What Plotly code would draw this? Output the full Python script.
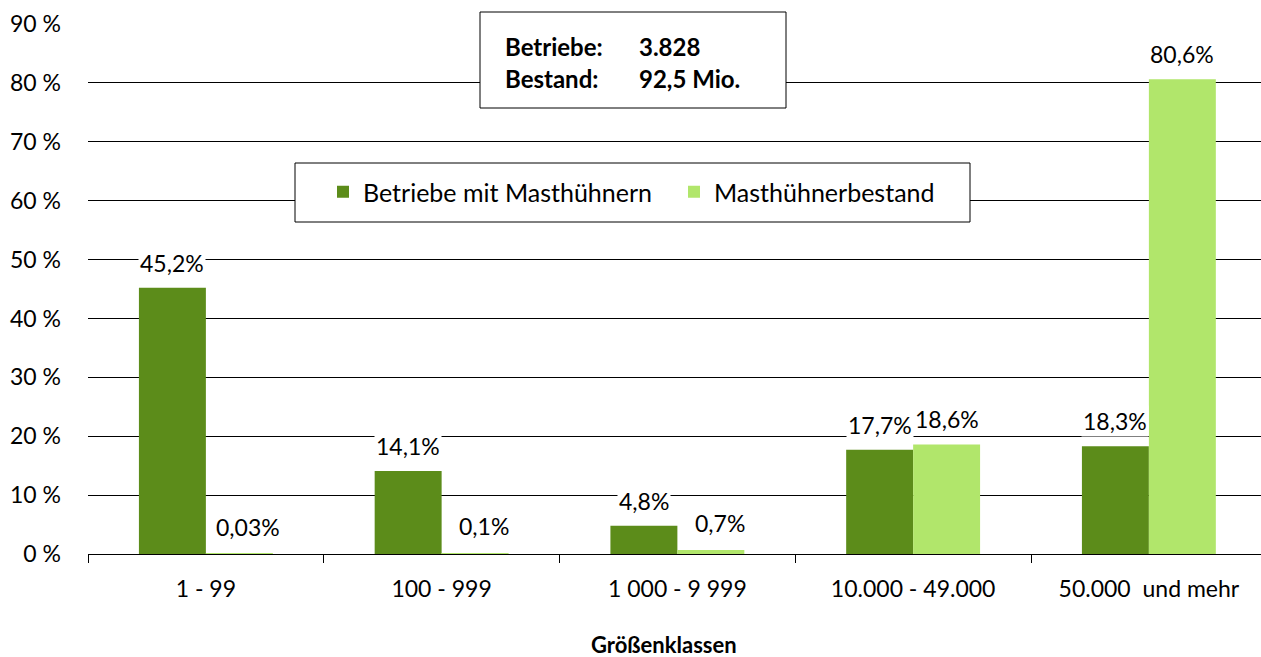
import plotly.graph_objects as go

categories = ["1 - 99", "100 - 999", "1 000 - 9 999", "10.000 - 49.000", "50.000\u00a0 und mehr"]
betriebe = [45.2, 14.1, 4.8, 17.7, 18.3]
bestand = [0.03, 0.1, 0.7, 18.6, 80.6]
betriebe_labels = ["45,2%", "14,1%", "4,8%", "17,7%", "18,3%"]
bestand_labels = ["0,03%", "0,1%", "0,7%", "18,6%", "80,6%"]
y_ticks = [0, 10, 20, 30, 40, 50, 60, 70, 80, 90]
y_ticktext = [f"{v} %" for v in y_ticks]

DARK = "#5C8C1A"
LIGHT = "#B1E66B"
FONT = "Lato"
FS = 23

W, H = 1261, 657
ML, MR, MT, MB = 88, 0, 24, 103
PW = W - ML - MR
PH = H - MT - MB
cat_px = 235.75
span = PW / cat_px

def px(x):
    return (x - ML) / PW

def py(y):
    return (H - MB - y) / PH

fig = go.Figure()
fig.add_trace(go.Bar(x=categories, y=betriebe, name="Betriebe mit Masthühnern",
                     marker=dict(color=DARK, line=dict(width=0))))
fig.add_trace(go.Bar(x=categories, y=bestand, name="Masthühnerbestand",
                     marker=dict(color=LIGHT, line=dict(width=0))))

annotations = []
bar_half = cat_px * (1 - 0.432) / 4
for cat, v, t in zip(categories, betriebe, betriebe_labels):
    annotations.append(dict(x=cat, y=v, text=t, showarrow=False, xref="x", yref="y",
                            xshift=-bar_half, yshift=25, yanchor="middle",
                            bgcolor="white", borderpad=1,
                            font=dict(family=FONT, size=FS, color="black")))
for cat, v, t in zip(categories, bestand, bestand_labels):
    small = v < 1
    annotations.append(dict(x=cat, y=v, text=t, showarrow=False, xref="x", yref="y",
                            xshift=bar_half + (9 if small else 0), yshift=27 if small else 25,
                            yanchor="middle", bgcolor="white", borderpad=1,
                            font=dict(family=FONT, size=FS, color="black")))

# info box texts
for lbl, val, yy in [("Betriebe:", "3.828", 46), ("Bestand:", "92,5 Mio.", 79)]:
    annotations.append(dict(x=px(503), y=py(yy), xref="paper", yref="paper", text="<b>" + lbl + "</b>",
                            showarrow=False, xanchor="left", yanchor="middle",
                            font=dict(family=FONT, size=24, color="black")))
    annotations.append(dict(x=px(637), y=py(yy), xref="paper", yref="paper", text="<b>" + val + "</b>",
                            showarrow=False, xanchor="left", yanchor="middle",
                            font=dict(family=FONT, size=24, color="black")))

annotations.append(dict(x=px(664), y=py(644), xref="paper", yref="paper", text="<b>Größenklassen</b>",
                        showarrow=False, xanchor="center", yanchor="middle",
                        font=dict(family=FONT, size=22, color="black")))

shapes = [
    dict(type="rect", xref="paper", yref="paper", x0=px(480), x1=px(786), y0=py(108), y1=py(12),
         line=dict(color="black", width=1), fillcolor="white", layer="above"),
    dict(type="rect", xref="paper", yref="paper", x0=px(295), x1=px(970), y0=py(222), y1=py(163),
         line=dict(color="black", width=1), fillcolor="white", layer="above"),
]

fig.update_layout(
    width=W, height=H,
    margin=dict(l=ML, r=MR, t=MT, b=MB),
    paper_bgcolor="white", plot_bgcolor="white",
    barmode="group", bargap=0.432, bargroupgap=0,
    font=dict(family=FONT, size=FS, color="black"),
    showlegend=True,
    legend=dict(orientation="h", x=px(323), y=py(192), xanchor="left", yanchor="middle",
                bgcolor="rgba(0,0,0,0)", borderwidth=0, entrywidth=306,
                font=dict(family=FONT, size=25, color="black"), itemclick=False),
    annotations=annotations,
    shapes=shapes,
    xaxis=dict(range=[-0.5, -0.5 + span], showgrid=False, showline=True, linecolor="black", linewidth=1,
               ticks="outside", tickson="boundaries", ticklen=8, tickcolor="black", tickwidth=1,
               ticklabelstandoff=14, tickfont=dict(family=FONT, size=FS)),
    yaxis=dict(range=[0, 90], tickmode="array", tickvals=y_ticks, ticktext=y_ticktext,
               showgrid=True, gridcolor="black",
               gridwidth=1, showline=False, zeroline=False, ticks="", ticklabelstandoff=26,
               tickfont=dict(family=FONT, size=FS)),
)

fig.write_html("out.html", config={"displayModeBar": False},
               post_script="document.body.style.margin='0px';document.body.style.overflow='hidden';")
